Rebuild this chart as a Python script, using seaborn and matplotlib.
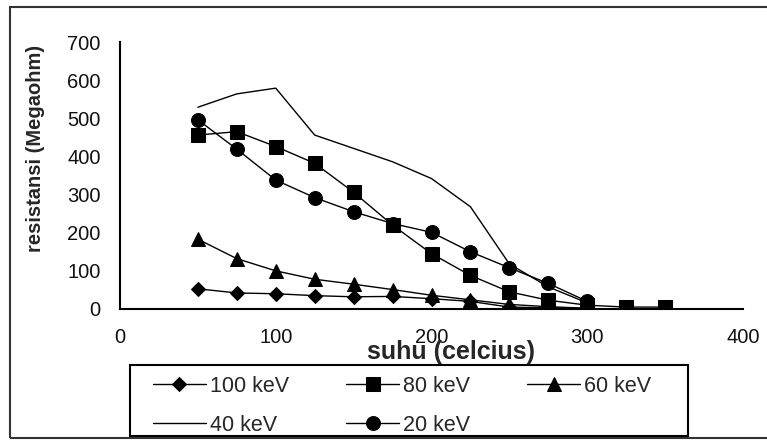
import matplotlib
matplotlib.use("Agg")
import matplotlib.pyplot as plt
import matplotlib.patches as mpatches
import seaborn as sns
import pandas as pd

# ---- data ----
suhu_11 = [50, 75, 100, 125, 150, 175, 200, 225, 250, 275, 300]
suhu_13 = [50, 75, 100, 125, 150, 175, 200, 225, 250, 275, 300, 325, 350]
r_100kev = [53, 42, 40, 35, 32, 33, 27, 20, 5, 3, 1]
r_80kev = [456, 465, 426, 382, 306, 220, 145, 88, 45, 23, 10, 5, 5]
r_60kev = [183, 132, 100, 78, 65, 51, 36, 24, 12, 6, 2]
r_40kev = [529, 564, 579, 456, 421, 386, 342, 268, 118, 58, 16]
r_20kev = [496, 419, 338, 292, 255, 224, 201, 150, 108, 67, 20]
labels = ["100 keV", "80 keV", "60 keV", "40 keV", "20 keV"]
x_ticks = [0, 100, 200, 300, 400]
y_ticks = [0, 100, 200, 300, 400, 500, 600, 700]

series = [
    (labels[0], suhu_11, r_100kev, "D", 7),
    (labels[1], suhu_13, r_80kev, "s", 9.5),
    (labels[2], suhu_11, r_60kev, "^", 9.5),
    (labels[3], suhu_11, r_40kev, None, 0),
    (labels[4], suhu_11, r_20kev, "o", 10),
]

sns.set_style("white")
plt.rcParams["font.family"] = ["Liberation Sans", "DejaVu Sans"]

W, H = 767, 441
fig = plt.figure(figsize=(W / 100, H / 100), dpi=100)
ax = fig.add_axes([120 / W, 1 - 309 / H, (743 - 120) / W, (309 - 42) / H])

for name, xs, ys, mk, ms in series:
    df = pd.DataFrame({"suhu": xs, "r": ys})
    kw = dict(color="black", linewidth=1.0, label=name)
    if mk:
        kw.update(marker=mk, markersize=ms, markeredgecolor="black",
                  markerfacecolor="black")
    sns.lineplot(data=df, x="suhu", y="r", ax=ax, **kw)

h, l = ax.get_legend_handles_labels()
hd = dict(zip(l, h))
if ax.get_legend() is not None:
    ax.get_legend().remove()

ax.set_xlim(0, 400)
ax.set_ylim(0, 700)
ax.set_xticks(x_ticks)
ax.set_yticks(y_ticks)
ax.set_xlabel("")
ax.set_ylabel("")
for s in ["top", "right"]:
    ax.spines[s].set_visible(False)
for s in ["left", "bottom"]:
    ax.spines[s].set_color("black")
    ax.spines[s].set_linewidth(1.5)
ax.tick_params(axis="both", direction="out", length=5, width=1.2,
               color="black", labelsize=14.5, labelcolor="#111111")
ax.tick_params(axis="x", pad=9)
ax.tick_params(axis="y", pad=9)

fig.text(451 / W, 1 - 352 / H, "suhu (celcius)", ha="center", va="center",
         fontsize=18, fontweight="bold")
fig.text(36 / W, 1 - 148 / H, "resistansi (Megaohm)", ha="center", va="center",
         rotation=90, fontsize=14.5, fontweight="bold")

# legend box
fig.patches.append(mpatches.Rectangle((130 / W, 1 - 436 / H), 558 / W, 71 / H,
                                      transform=fig.transFigure, fill=False,
                                      edgecolor="black", linewidth=1.5))
order = ["100 keV", "40 keV", "80 keV", "20 keV", "60 keV"]
leg = fig.legend([hd[k] for k in order], order, ncol=3, loc="upper left",
                 bbox_to_anchor=(153 / W, 1 - 376 / H), fontsize=15.5,
                 frameon=False, handlelength=2.45,
                 handletextpad=0.2, columnspacing=2.65, borderpad=0,
                 labelspacing=0.82, borderaxespad=0)

# outer chart border
fig.patches.append(mpatches.Rectangle((10 / W, 3 / H), 1.0, 1 - 10 / H,
                                      transform=fig.transFigure, fill=False,
                                      edgecolor="#333333", linewidth=1.5))

fig.savefig("out.png", dpi=100)
